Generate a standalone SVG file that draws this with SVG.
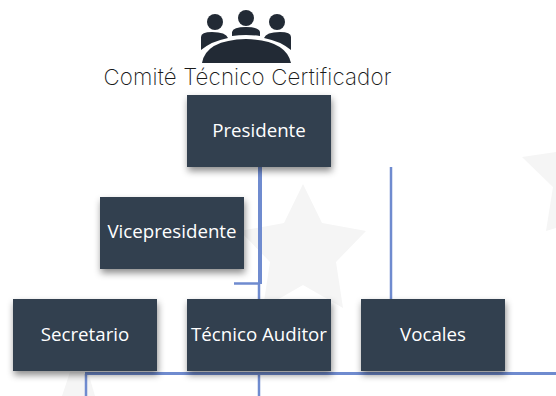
<svg xmlns="http://www.w3.org/2000/svg" width="556" height="396" viewBox="0 0 556 396">
<defs>
<filter id="sh" x="-20%" y="-20%" width="140%" height="150%"><feDropShadow dx="1" dy="4" stdDeviation="3.500" flood-color="#000" flood-opacity="0.45"/></filter>
</defs>
<style>
.box{fill:#333f50;filter:url(#sh)}
.lbl{fill:#fff;font:18.700px "Open Sans","Noto Sans",sans-serif;text-anchor:middle}
.c{fill:none;stroke:#6f8bcf}
.star{fill:#f5f5f5}
.ic{fill:#222a35}
</style>
<rect width="556" height="396" fill="#fff"/>
<g id="background">
<polygon class="star" points="303,184 322,223 366,231 336,262 343,308 303,285 263,308 270,262 240,231 284,223"/>
<polygon class="star" points="522,157 556,152 556,228 546,231 553,187"/>
<polygon class="star" points="70,372 62,396 95,396 88,372"/>
</g>
<g id="connectors">
<path class="c" stroke-width="4" d="M260,166V284"/>
<path class="c" stroke-width="2.500" d="M234,283.500H260M259,284V299M259,372V396M391,167V299M391,372V374M86,374V396"/>
<path class="c" stroke-width="3" d="M85,373.500H556"/>
</g>
<g id="icon">
<circle class="ic" cx="215" cy="22" r="8"/><circle class="ic" cx="246" cy="18" r="8"/><circle class="ic" cx="277" cy="22" r="8"/>
<path class="ic" d="M201,50V37Q201,32 212,32Q226,32 228,38Q212,41 201,50Z"/>
<path class="ic" d="M232,36V32Q233,27 246,27Q259,27 260,32V36Q246,34 232,36Z"/>
<path class="ic" d="M291,50V37Q291,32 280,32Q266,32 264,38Q280,41 291,50Z"/>
<path class="ic" d="M202,63Q206,40 246,39Q286,40 291,63Z"/>
</g>
<g id="title"><text x="247.500" y="85" style="font:200 22.300px Inter,'Open Sans',sans-serif;fill:#1a1a1a;text-anchor:middle;letter-spacing:.15px">Comité Técnico Certificador</text></g>
<g id="presidente"><rect class="box" x="187" y="95" width="144" height="72"/><text class="lbl" x="259" y="137">Presidente</text></g>
<g id="vicepresidente"><rect class="box" x="100" y="197" width="144" height="72"/><text class="lbl" x="172" y="238">Vicepresidente</text></g>
<g id="secretario"><rect class="box" x="13" y="299" width="144" height="72"/><text class="lbl" x="85" y="341">Secretario</text></g>
<g id="tecnico"><rect class="box" x="187" y="299" width="144" height="72"/><text class="lbl" x="259" y="341">Técnico Auditor</text></g>
<g id="vocales"><rect class="box" x="361" y="299" width="144" height="72"/><text class="lbl" x="433" y="341">Vocales</text></g>
</svg>
